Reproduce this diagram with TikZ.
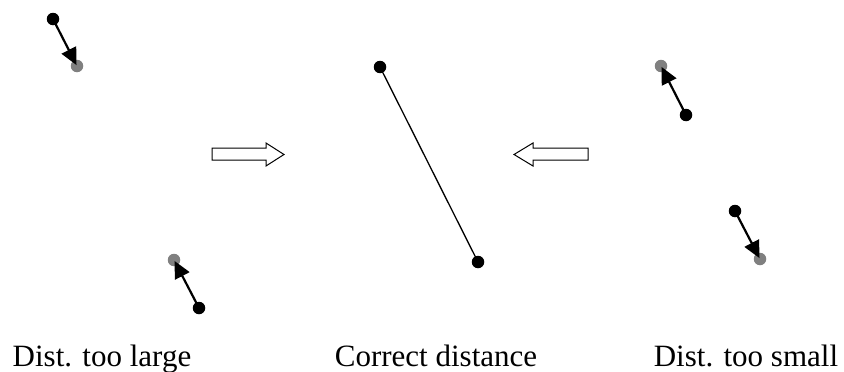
\documentclass[tikz,border=0pt]{standalone}
\usepackage{fontspec}
\setmainfont{Liberation Serif}
\usetikzlibrary{arrows.meta}
\begin{document}
\begin{tikzpicture}[x=1pt,y=-1pt,
  bdot/.style={circle,fill=black,inner sep=0pt,minimum size=12.5pt},
  gdot/.style={circle,fill=gray,inner sep=0pt,minimum size=12.5pt},
  move/.style={line width=2.2pt,-{Triangle[length=17pt,width=16pt]},shorten >=1pt},
  blockarrow/.style={draw=black,line width=1pt,fill=white,line join=miter},
  lbl/.style={font=\fontsize{31}{35}\selectfont,anchor=base}]
\useasboundingbox (0,0) rectangle (844,372);
% left
\node[gdot] (g1) at (77,66) {};
\node[bdot] (b1) at (53,19) {};
\draw[move] (b1.center) -- (g1.center);
\node[gdot] (g2) at (174,260) {};
\node[bdot] (b2) at (199,308) {};
\draw[move] (b2.center) -- (g2.center);
% middle
\node[bdot] (m1) at (380,67) {};
\node[bdot] (m2) at (478,262) {};
\draw[line width=1.3pt] (m1.center) -- (m2.center);
% right
\node[gdot] (g3) at (661,66) {};
\node[bdot] (b3) at (686,115) {};
\draw[move] (b3.center) -- (g3.center);
\node[gdot] (g4) at (760,259) {};
\node[bdot] (b4) at (735,211) {};
\draw[move] (b4.center) -- (g4.center);
% block arrows
\draw[blockarrow] (212,148) -- (266,148) -- (266,143) -- (284,154.5) -- (266,166) -- (266,160) -- (212,160) -- cycle;
\draw[blockarrow] (588,148) -- (533,148) -- (533,143) -- (514,154.5) -- (533,166) -- (533,160) -- (588,160) -- cycle;
% labels
\node[lbl] (t1) at (102,366) {Dist. too large};
\node[lbl] (t2) at (436,366) {Correct distance};
\node[lbl] (t3) at (746,366) {Dist. too small};
\end{tikzpicture}
\end{document}
